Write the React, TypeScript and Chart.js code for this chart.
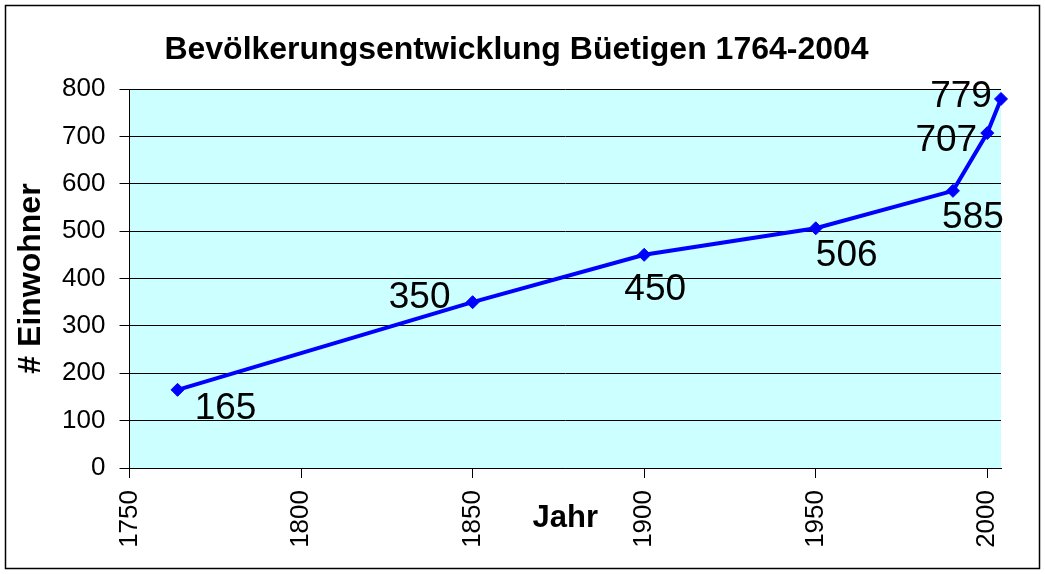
import React, { useEffect, useRef } from "react";
import { Chart, registerables } from "chart.js";

Chart.register(...registerables);

// ---- Data ----
const years: number[] = [1764, 1850, 1900, 1950, 1990, 2000, 2004];
const population: number[] = [165, 350, 450, 506, 585, 707, 779];
const chartTitle = "Bevölkerungsentwicklung Büetigen 1764-2004";
const xAxisTitle = "Jahr";
const yAxisTitle = "# Einwohner";
const xMin = 1750;
const xMax = 2004;
const xStep = 50;
const yMin = 0;
const yMax = 800;
const yStep = 100;

const FONT = "'Liberation Sans', Arial, Helvetica, sans-serif";

// label placement relative to each point (style only)
const labelOffsets: [number, number][] = [
  [48, 16],
  [-53, -7],
  [11, 32],
  [31, 24],
  [20, 24],
  [-41, 5],
  [-40, -5],
];

const framePlugin = {
  id: "framePlugin",
  beforeDraw(chart: any) {
    const { ctx, chartArea, width, height } = chart;
    ctx.save();
    ctx.fillStyle = "#ffffff";
    ctx.fillRect(0, 0, width, height);
    ctx.strokeStyle = "#000000";
    ctx.lineWidth = 1.5;
    ctx.strokeRect(5.5, 5.5, width - 11, height - 11);
    ctx.fillStyle = "#CCFFFF";
    ctx.fillRect(
      chartArea.left,
      chartArea.top,
      chartArea.right - chartArea.left,
      chartArea.bottom - chartArea.top
    );
    ctx.restore();
  },
};

const valueLabelPlugin = {
  id: "valueLabelPlugin",
  afterDatasetsDraw(chart: any) {
    const { ctx } = chart;
    const meta = chart.getDatasetMeta(0);
    const size = 37;
    ctx.save();
    ctx.font = `${size}px ${FONT}`;
    ctx.fillStyle = "#000000";
    ctx.textAlign = "center";
    ctx.textBaseline = "alphabetic";
    meta.data.forEach((pt: any, i: number) => {
      const [dx, dy] = labelOffsets[i] || [0, 0];
      const v = chart.data.datasets[0].data[i];
      const text = String(v.y);
      ctx.fillText(text, pt.x + dx, pt.y + dy + size * 0.358);
    });
    ctx.restore();
  },
};

export default function App() {
  const canvasRef = useRef<HTMLCanvasElement | null>(null);

  useEffect(() => {
    document.body.style.margin = "0";
    const canvas = canvasRef.current;
    if (!canvas) return;
    const chart = new Chart(canvas, {
      type: "line",
      data: {
        datasets: [
          {
            data: years.map((y, i) => ({ x: y, y: population[i] })),
            borderColor: "#0000FF",
            backgroundColor: "#0000FF",
            borderWidth: 4,
            pointStyle: "rectRot",
            pointRadius: 6.5,
            pointBorderWidth: 1,
            pointBorderColor: "#0000FF",
            pointBackgroundColor: "#0000FF",
            tension: 0,
            fill: false,
            clip: false as any,
          },
        ],
      },
      options: {
        animation: false,
        responsive: false,
        maintainAspectRatio: false,
        color: "#000000",
        layout: { padding: { left: 32, right: 44, top: 0, bottom: 0 } },
        plugins: {
          legend: { display: false },
          tooltip: { enabled: false },
          title: {
            display: true,
            text: chartTitle,
            color: "#000000",
            font: { family: FONT, size: 32, weight: "bold" },
            padding: { top: 31, bottom: 19.6 },
          },
        },
        scales: {
          x: {
            type: "linear",
            min: xMin,
            max: xMax,
            afterFit(scale: any) {
              scale.height = 106;
            },
            ticks: {
              stepSize: xStep,
              includeBounds: false,
              minRotation: 90,
              maxRotation: 90,
              padding: 12,
              color: "#000000",
              font: { family: FONT, size: 26 },
              callback: (v: any) => String(v),
            },
            grid: {
              drawOnChartArea: false,
              drawTicks: true,
              tickLength: 10,
              color: "#000000",
              lineWidth: 1,
            },
            border: { display: true, color: "#000000", width: 1 },
            title: {
              display: true,
              text: xAxisTitle,
              color: "#000000",
              font: { family: FONT, size: 31, weight: "bold" },
              padding: { top: 0, bottom: 37 },
            },
          },
          y: {
            type: "linear",
            min: yMin,
            max: yMax,
            afterFit(scale: any) {
              scale.width = 97.5;
            },
            ticks: {
              stepSize: yStep,
              padding: 14,
              color: "#000000",
              font: { family: FONT, size: 26 },
            },
            grid: {
              drawOnChartArea: true,
              drawTicks: true,
              tickLength: 10,
              color: "#000000",
              lineWidth: 1,
            },
            border: { display: true, color: "#000000", width: 1 },
            title: {
              display: true,
              text: yAxisTitle,
              color: "#000000",
              font: { family: FONT, size: 32, weight: "bold" },
              padding: { top: -20, bottom: 0 },
            },
          },
        },
      },
      plugins: [framePlugin, valueLabelPlugin],
    } as any);
    return () => {
      chart.destroy();
    };
  }, []);

  return (
    <div style={{ width: 1045, height: 574, position: "relative" }}>
      <canvas ref={canvasRef} width={1045} height={574} style={{ display: "block" }} />
    </div>
  );
}
